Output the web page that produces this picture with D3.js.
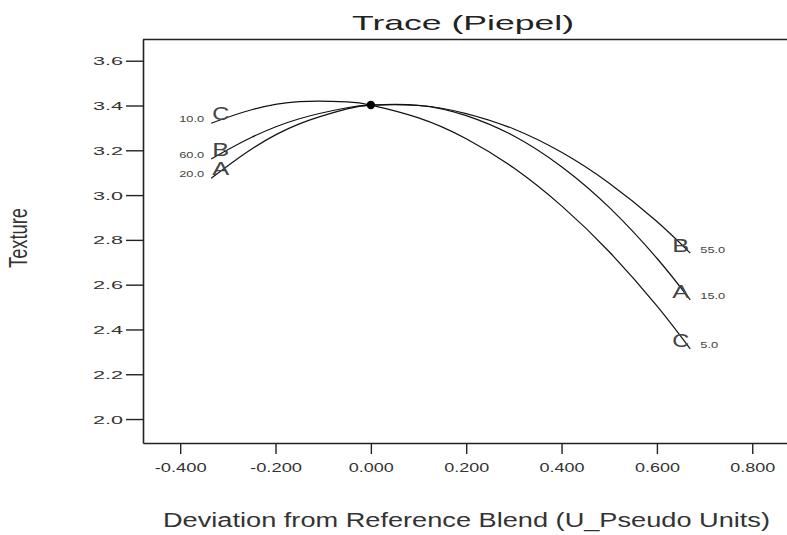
<!DOCTYPE html>
<html>
<head>
<meta charset="utf-8">
<script src="https://cdn.jsdelivr.net/npm/d3@7"></script>
<style>
  html, body { margin: 0; padding: 0; background: #fff; }
  svg { display: block; }
  text { font-family: Arial, "Liberation Sans", sans-serif; }
</style>
</head>
<body>
<svg id="chart" width="787" height="535"></svg>
<script>
// ---- data ----
const components = ["A", "B", "C"];
const deviation = [-0.335, -0.25, -0.15, -0.05, 0, 0.1, 0.2, 0.3, 0.4, 0.5, 0.6, 0.67];
const textureA = [3.075, 3.206, 3.318, 3.385, 3.402, 3.401, 3.355, 3.264, 3.127, 2.945, 2.718, 2.532];
const textureB = [3.161, 3.258, 3.341, 3.390, 3.402, 3.400, 3.364, 3.295, 3.191, 3.053, 2.882, 2.741];
const textureC = [3.321, 3.381, 3.417, 3.416, 3.402, 3.345, 3.252, 3.121, 2.952, 2.747, 2.505, 2.313];
const startLabels = ["20.0", "60.0", "10.0"];
const endLabels = ["15.0", "55.0", "5.0"];
const refPoint = [0, 3.402];
const xTicks = [-0.4, -0.2, 0, 0.2, 0.4, 0.6, 0.8];
const yTicks = [2.0, 2.2, 2.4, 2.6, 2.8, 3.0, 3.2, 3.4, 3.6];
const titleText = "Trace (Piepel)";
const xLabel = "Deviation from Reference Blend (U_Pseudo Units)";
const yLabel = "Texture";

const series = [textureA, textureB, textureC];

// ---- layout ----
const svg = d3.select("#chart");
const L = 143, R = 788, T = 39, B = 443;
const x = d3.scaleLinear().domain([-0.478, 0.875]).range([L, R]);
const y = d3.scaleLinear().domain([1.893, 3.697]).range([B, T]);
const ink = "#222";
const txt = "#333";

// width helper for stretched text
function tw(s, d, dot, minus) {
  let w = 0;
  for (const ch of s) w += (ch === ".") ? dot : (ch === "-") ? minus : d;
  return w;
}

// frame
svg.append("line").attr("x1", L).attr("x2", R).attr("y1", T + 0.5).attr("y2", T + 0.5)
  .attr("stroke", ink).attr("stroke-width", 1.6);

// y axis
const yAxis = d3.axisLeft(y).tickValues(yTicks).tickSize(17).tickSizeOuter(0).tickPadding(3)
  .tickFormat(d3.format(".1f"));
const gy = svg.append("g").attr("transform", `translate(${L},0)`).call(yAxis);
gy.select(".domain").attr("stroke", ink).attr("stroke-width", 1.6);
gy.selectAll(".tick line").attr("stroke", ink).attr("stroke-width", 1.4);
gy.selectAll(".tick text")
  .attr("fill", txt).attr("font-size", 11).attr("dy", "0.36em")
  .attr("textLength", function () { return tw(this.textContent, 12, 6, 7); })
  .attr("lengthAdjust", "spacingAndGlyphs");

// x axis
const fx = d3.format(".3f");
const xAxis = d3.axisBottom(x).tickValues(xTicks).tickSize(11).tickSizeOuter(0).tickPadding(8)
  .tickFormat(d => fx(d).replace("\u2212", "-"));
const gx = svg.append("g").attr("transform", `translate(0,${B})`).call(xAxis);
gx.select(".domain").attr("stroke", ink).attr("stroke-width", 1.6);
gx.selectAll(".tick line").attr("stroke", ink).attr("stroke-width", 1.4);
gx.selectAll(".tick text")
  .attr("fill", txt).attr("font-size", 13.5).attr("dy", 0).attr("y", 29)
  .attr("textLength", function () { return tw(this.textContent, 10, 5, 7); })
  .attr("lengthAdjust", "spacingAndGlyphs");

// curves
const line = d3.line().x(d => x(d[0])).y(d => y(d[1])).curve(d3.curveNatural);
series.forEach(vals => {
  const pts = deviation.map((d, i) => [d, vals[i]]);
  svg.append("path").attr("d", line(pts)).attr("fill", "none")
    .attr("stroke", "#111").attr("stroke-width", 1.2);
});

// reference point
svg.append("circle").attr("cx", x(refPoint[0])).attr("cy", y(refPoint[1])).attr("r", 4.2)
  .attr("fill", "#000");

// component labels
series.forEach((vals, i) => {
  const n = vals.length - 1;
  const x0 = x(deviation[0]), y0 = y(vals[0]);
  const x1 = x(deviation[n]), y1 = y(vals[n]);
  // start side
  svg.append("text").attr("x", x0 + 1).attr("y", y0 - 3)
    .attr("font-size", 19).attr("fill", "#444")
    .attr("textLength", 17).attr("lengthAdjust", "spacingAndGlyphs")
    .text(components[i]);
  svg.append("text").attr("x", x0 - 7).attr("y", y0 - 1).attr("text-anchor", "end")
    .attr("font-size", 8.5).attr("fill", "#444")
    .attr("textLength", tw(startLabels[i], 7, 4, 4)).attr("lengthAdjust", "spacingAndGlyphs")
    .text(startLabels[i]);
  // end side
  svg.append("text").attr("x", x1 - 18).attr("y", y1 - 1.5)
    .attr("font-size", 19).attr("fill", "#444")
    .attr("textLength", 17).attr("lengthAdjust", "spacingAndGlyphs")
    .text(components[i]);
  svg.append("text").attr("x", x1 + 10).attr("y", y1 - 0.5)
    .attr("font-size", 8.5).attr("fill", "#444")
    .attr("textLength", tw(endLabels[i], 7, 4, 4)).attr("lengthAdjust", "spacingAndGlyphs")
    .text(endLabels[i]);
});

// title
svg.append("text").attr("x", 352).attr("y", 30).attr("font-size", 21).attr("fill", "#222")
  .attr("textLength", 222).attr("lengthAdjust", "spacingAndGlyphs").text(titleText);

// x label
svg.append("text").attr("x", 163).attr("y", 527).attr("font-size", 20).attr("fill", "#333")
  .attr("textLength", 607).attr("lengthAdjust", "spacingAndGlyphs").text(xLabel);

// y label (rotated, stretched across)
svg.append("text")
  .attr("transform", "translate(27,238) rotate(-90) scale(1,1.55)")
  .attr("text-anchor", "middle").attr("font-size", 17).attr("fill", "#333")
  .attr("textLength", 60).attr("lengthAdjust", "spacingAndGlyphs")
  .text(yLabel);
</script>
</body>
</html>
